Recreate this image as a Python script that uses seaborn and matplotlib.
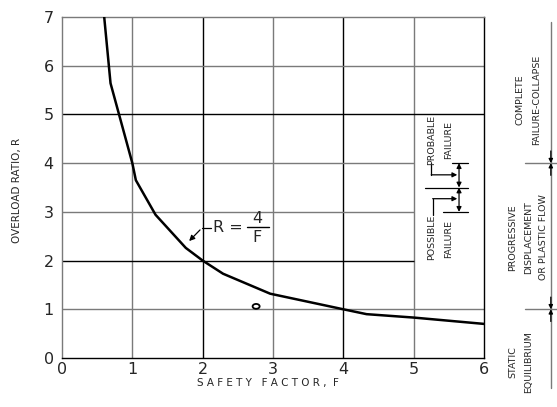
import matplotlib
matplotlib.use("Agg")
import matplotlib.pyplot as plt
import seaborn as sns
import pandas as pd
from matplotlib.patches import Ellipse

# ---- data ----
safety_factor = [0.6, 0.69, 1.0, 1.05, 1.33, 1.76, 2.0, 2.29, 2.96, 4.0, 4.33, 5.0, 6.0]
overload_ratio = [7.0, 5.64, 4.0, 3.65, 2.94, 2.26, 2.0, 1.73, 1.32, 1.0, 0.9, 0.83, 0.7]
point_f = [2.76]
point_r = [1.06]
x_ticks = [0, 1, 2, 3, 4, 5, 6]
y_ticks = [0, 1, 2, 3, 4, 5, 6, 7]

sns.set_style("white")
plt.rcParams['font.family'] = ['DejaVu Sans']

fig = plt.figure(figsize=(5.57, 4.07), dpi=100)
ax = fig.add_axes([62/557, 1-358/407, (484-62)/557, (358-17)/407])

GRAY = "#7a7a7a"
BLACK = "#000000"

# grid lines
xcol = {1: GRAY, 2: BLACK, 3: GRAY, 4: BLACK, 5: GRAY}
for xv, c in xcol.items():
    ax.vlines(xv, 0, 7, color=c, lw=1.0, zorder=1)
ycol = {1: GRAY, 2: BLACK, 3: GRAY, 4: GRAY, 5: BLACK, 6: GRAY}
for yv, c in ycol.items():
    xmax = 5 if yv in (2, 3, 4) else 6
    ax.hlines(yv, 0, xmax, color=c, lw=1.0, zorder=1)

df = pd.DataFrame({"F": safety_factor, "R": overload_ratio})
sns.lineplot(data=df, x="F", y="R", ax=ax, color="black", lw=1.8, sort=False, zorder=3)

ax.add_patch(Ellipse((point_f[0], point_r[0]), 0.1, 0.1, fill=False, ec="black", lw=1.3, zorder=3))

ax.set_xlim(0, 6)
ax.set_ylim(0, 7)
ax.set_xticks(x_ticks)
ax.set_yticks(y_ticks)
ax.set_xticklabels([str(v) for v in x_ticks], fontsize=11.5)
ax.set_yticklabels([str(v) for v in y_ticks], fontsize=11.5)
ax.tick_params(length=0, pad=3)
ax.tick_params(axis='y', pad=6)
for s in ["left", "top"]:
    ax.spines[s].set_color(GRAY)
for s in ["right", "bottom"]:
    ax.spines[s].set_color(BLACK)
for s in ax.spines.values():
    s.set_linewidth(1.0)
ax.set_xlabel("")
ax.set_ylabel("")

fig.text(17/557, 1-190/407, "OVERLOAD RATIO, R", rotation=90, ha="center", va="center", fontsize=7.5)
fig.text(268/557, 1-383/407, "S A F E T Y   F A C T O R ,  F", ha="center", va="center", fontsize=7.5)

# R = 4/F label
ax.text(2.14, 2.67, "R =", ha="left", va="center", fontsize=11.5)
ax.text(2.77, 2.87, "4", ha="center", va="center", fontsize=11.5)
ax.text(2.77, 2.47, "F", ha="center", va="center", fontsize=11.5)
ax.plot([2.63, 2.95], [2.69, 2.69], color="black", lw=1.0)
ax.annotate("", xy=(1.78, 2.36), xytext=(1.99, 2.67),
            arrowprops=dict(arrowstyle="-|>", color="black", lw=0.9, mutation_scale=8))
ax.plot([1.99, 2.12], [2.67, 2.67], color="black", lw=0.9)

# probable / possible failure annotation
tk = dict(rotation=90, ha="center", va="center", fontsize=6.8)
ax.text(5.25, 4.47, "PROBABLE", **tk)
ax.text(5.49, 4.48, "FAILURE", **tk)
ax.text(5.25, 2.48, "POSSIBLE", **tk)
ax.text(5.49, 2.44, "FAILURE", **tk)
ax.plot([5.55, 5.77], [4, 4], color="black", lw=0.9)
ax.plot([5.42, 5.77], [3, 3], color="black", lw=0.9)
ax.plot([5.16, 5.77], [3.5, 3.5], color="black", lw=0.9)
arr = dict(arrowstyle="<|-|>", color="black", lw=0.9, mutation_scale=7, shrinkA=0, shrinkB=0)
ax.annotate("", xy=(5.645, 4.0), xytext=(5.645, 3.5), arrowprops=arr)
ax.annotate("", xy=(5.645, 3.5), xytext=(5.645, 3.0), arrowprops=arr)
ax.plot([5.25, 5.25], [4.0, 3.76], color="black", lw=0.9)
ax.annotate("", xy=(5.62, 3.76), xytext=(5.25, 3.76),
            arrowprops=dict(arrowstyle="-|>", color="black", lw=0.9, mutation_scale=7, shrinkA=0, shrinkB=0))
ax.plot([5.27, 5.27], [2.93, 3.27], color="black", lw=0.9)
ax.annotate("", xy=(5.62, 3.27), xytext=(5.27, 3.27),
            arrowprops=dict(arrowstyle="-|>", color="black", lw=0.9, mutation_scale=7, shrinkA=0, shrinkB=0))

# right-hand zone scale
ax.plot([6.95, 6.95], [6.9, -0.62], color=GRAY, lw=1.0, clip_on=False)
for yv in (4, 1):
    ax.plot([6.58, 7.04], [yv, yv], color=GRAY, lw=1.0, clip_on=False)
    ax.annotate("", xy=(6.95, yv), xytext=(6.95, yv + 0.25),
                arrowprops=dict(arrowstyle="-|>", color="black", lw=0.9, mutation_scale=6, shrinkA=0, shrinkB=0),
                annotation_clip=False)
    ax.annotate("", xy=(6.95, yv), xytext=(6.95, yv - 0.25),
                arrowprops=dict(arrowstyle="-|>", color="black", lw=0.9, mutation_scale=6, shrinkA=0, shrinkB=0),
                annotation_clip=False)

rk = dict(rotation=90, ha="center", va="center", fontsize=6.8, clip_on=False)
ax.text(6.51, 5.3, "COMPLETE", **rk)
ax.text(6.75, 5.3, "FAILURE-COLLAPSE", **rk)
ax.text(6.41, 2.48, "PROGRESSIVE", **rk)
ax.text(6.63, 2.48, "DISPLACEMENT", **rk)
ax.text(6.84, 2.48, "OR PLASTIC FLOW", **rk)
ax.text(6.41, -0.08, "STATIC", **rk)
ax.text(6.63, -0.08, "EQUILIBRIUM", **rk)

fig.savefig("out.png", dpi=100)
